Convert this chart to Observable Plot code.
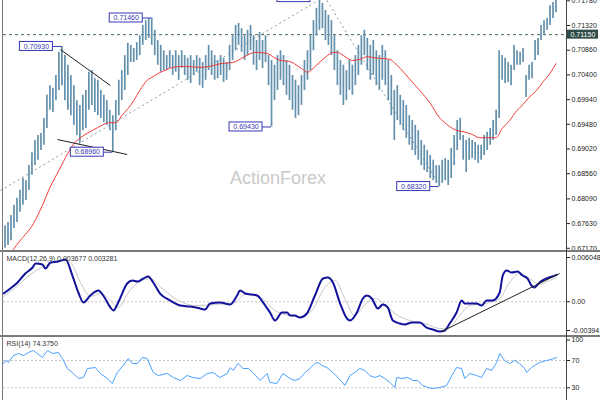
<!DOCTYPE html>
<html><head><meta charset="utf-8">
<script src="https://cdn.jsdelivr.net/npm/d3@7"></script>
<script src="https://cdn.jsdelivr.net/npm/@observablehq/plot@0.6"></script>
<style>
body{margin:0;background:#fff;}
#wrap{position:relative;width:600px;height:400px;overflow:hidden;background:#fff;font-family:"Liberation Sans",Arial,sans-serif;}
#wrap svg{position:absolute;left:0;display:block;overflow:hidden;}
.sep{position:absolute;background:#7a7a7a;}
</style></head><body><div id="wrap"></div>
<script>
// ---- price bars (bar index 0..184) ----
const highs = [.6759,.6765,.6778,.6797,.6810,.6825,.6847,.6843,.6871,.6895,
.6918,.6927,.6931,.6959,.7002,.7020,.7015,.7039,.7082,.7093,
.7076,.7058,.7039,.7020,.6992,.6983,.7002,.7011,.7045,.7048,
.7033,.7030,.7011,.7002,.6992,.6974,.6964,.6992,.7030,.7048,
.7076,.7099,.7095,.7089,.7100,.7113,.7132,.7141,.7145,.7146,
.7123,.7104,.7095,.7085,.7076,.7085,.7076,.7085,.7076,.7085,
.7076,.7071,.7076,.7067,.7076,.7071,.7063,.7076,.7095,.7085,
.7076,.7067,.7076,.7071,.7063,.7095,.7113,.7132,.7136,.7126,
.7113,.7123,.7132,.7113,.7104,.7119,.7104,.7113,.7076,.7067,
.7058,.7076,.7085,.7076,.7067,.7058,.7039,.7030,.7020,.7039,
.7067,.7085,.7113,.7141,.7164,.7184,.7173,.7160,.7151,.7141,
.7113,.7085,.7067,.7058,.7048,.7067,.7058,.7076,.7095,.7113,
.7123,.7108,.7095,.7104,.7085,.7076,.7095,.7085,.7067,.7039,
.7011,.7020,.7002,.6992,.6983,.6964,.6955,.6946,.6936,.6918,
.6909,.6899,.6890,.6881,.6871,.6871,.6881,.6884,.6881,.6903,
.6927,.6955,.6959,.6927,.6918,.6922,.6918,.6914,.6909,.6909,
.6927,.6933,.6940,.6955,.6974,.7085,.7076,.7071,.7063,.7058,
.7095,.7085,.7082,.7089,.7039,.7058,.7063,.7104,.7108,.7132,
.7141,.7145,.7169,.7175,.7179];
const lows = [.6717,.6722,.6731,.6754,.6765,.6784,.6797,.6806,.6825,.6853,
.6871,.6881,.6899,.6909,.6940,.6974,.6970,.6992,.7011,.7020,
.6992,.6974,.6964,.6946,.6927,.6912,.6936,.6940,.6974,.6983,
.6970,.6964,.6959,.6951,.6946,.6936,.6896,.6936,.6964,.6992,
.7011,.7039,.7063,.7063,.7067,.7076,.7095,.7104,.7108,.7095,
.7076,.7058,.7045,.7048,.7048,.7052,.7039,.7045,.7030,.7052,
.7039,.7030,.7024,.7039,.7045,.7020,.7015,.7030,.7048,.7039,
.7030,.7033,.7039,.7026,.7030,.7048,.7067,.7085,.7095,.7082,
.7067,.7076,.7085,.7058,.7048,.7067,.7052,.7063,.7020,.6943,
.6992,.7011,.7030,.7020,.7002,.6992,.6974,.6959,.6964,.6983,
.7011,.7030,.7048,.7085,.7113,.7123,.7126,.7104,.7095,.7076,
.7048,.7020,.7002,.6983,.6992,.7011,.7002,.7020,.7039,.7058,
.7076,.7048,.7030,.7039,.7020,.7011,.7030,.7020,.6992,.6964,
.6918,.6955,.6946,.6936,.6922,.6909,.6899,.6890,.6881,.6871,
.6862,.6858,.6847,.6843,.6838,.6832,.6838,.6843,.6834,.6847,
.6871,.6899,.6918,.6881,.6858,.6881,.6884,.6881,.6875,.6881,
.6890,.6899,.6909,.6918,.6927,.6959,.7030,.7024,.7026,.7020,
.7048,.7058,.7058,.7063,.6998,.7030,.7033,.7067,.7076,.7104,
.7113,.7123,.7132,.7145,.7156];

// ---- moving average ----
const maI = [2.5,5,9.5,12.5,15,18,21,23,25,28,31,33,35,37,39,43,45,47.5,49.5,52,
54,56,60,65,68.5,72,76,80,83.5,87.5,90,92,95,98.5,101,102.5,104,107,109.5,111,
113,116,118.5,121,123,125,128.5,130,132,135,138.5,142,145,147.5,149.5,152,154,156,158.5,162,
164,166,168.5,171,173,175,177.5,179.5,182,184];
const maV = [.6713,.6731,.6763,.6797,.6830,.6862,.6894,.6912,.6922,.6933,.6942,.6948,.6951,.6951,.6964,.6992,.7011,.7030,.7037,.7045,
.7050,.7054,.7056,.7054,.7056,.7061,.7063,.7074,.7082,.7080,.7072,.7067,.7065,.7054,.7045,.7050,.7058,.7073,.7082,.7082,
.7076,.7067,.7069,.7074,.7072,.7071,.7069,.7063,.7052,.7033,.7011,.6987,.6961,.6948,.6940,.6935,.6933,.6929,.6923,.6923,
.6923,.6940,.6955,.6974,.6985,.6998,.7011,.7026,.7043,.7061];

// ---- annotations ----
const labelIdx = [19, 49, 89, 36, 145, 105];
const labelPrice = [0.7093, 0.7146, 0.6943, 0.6896, 0.6832, 0.7184];
const trendX1 = [18.5, 17.5], trendY1 = [0.70873, 0.69196], trendX2 = [35.2, 40.8], trendY2 = [0.70202, 0.68917];
const dotX1 = [-1.5, 107.5], dotY1 = [0.68246, 0.71786], dotX2 = [104.5, 145.2], dotY2 = [0.71786, 0.68340];
const hLine = 0.7115;
const priceTicks = [0.7178,0.7132,0.7086,0.7040,0.6994,0.6948,0.6902,0.6856,0.6809,0.6763,0.6717];

// ---- MACD ----
const macdI = [-0.5,1.8,4.2,6.8,9.2,10.2,12.5,13.5,15.2,17.8,20.2,22.5,24.5,26.2,28.5,31.2,32.8,35.2,36.2,37.8,
40.8,42.5,44.2,46.2,47.8,49.5,51.8,55.2,58.5,61.8,65.2,66.8,68.5,71.8,75.2,77.5,78.5,80.2,84.2,86.2,
88.5,90.2,92.5,94.2,95.2,96.8,98.5,100.8,103.5,106.2,107.8,109.5,111.8,114.2,115.2,117.5,119.5,120.8,122.5,124.5,
126.2,127.8,129.5,131.8,133.5,135.8,138.5,140.8,142.8,145.2,146.8,148.5,150.8,152.5,153.5,155.2,157.5,159.2,160.8,162.8,
165.2,166.2,167.5,169.2,171.2,172.8,174.5,175.8,176.8,178.5,180.8,182.8,184.2];
const macdV = [.00112,.00181,.00263,.00386,.00468,.00523,.00509,.00454,.00536,.00550,.00577,.00358,.00126,-.00011,.00085,.00153,.00085,-.00079,-.00120,-.00011,
.00249,.00290,.00276,.00317,.00345,.00263,.00112,.00016,-.00052,-.00066,-.00093,-.00107,-.00025,-.00011,-.00038,.00085,.00153,.00112,.00085,-.00011,
-.00148,-.00257,-.00148,-.00148,-.00189,-.00189,-.00216,-.00161,.00085,.00317,.00331,.00263,-.00011,-.00230,-.00257,-.00148,.00044,.00085,.00044,-.00093,
-.00038,-.00079,-.00257,-.00298,-.00312,-.00285,-.00285,-.00353,-.00380,-.00408,-.00394,-.00298,-.00148,.00016,-.00025,-.00025,-.00025,-.00052,.00016,.00016,
.00126,.00358,.00427,.00399,.00413,.00358,.00317,.00222,.00194,.00263,.00317,.00345,.00368];
const sigI = [-0.5,3.5,8.5,13.5,18.5,21.8,25.2,28.5,31.8,35.2,37.8,41.2,44.5,48.5,51.8,56.8,63.5,70.2,76.8,80.2,
85.2,90.2,93.5,98.5,102.5,106.8,110.2,113.5,116.8,120.2,123.5,126.8,130.2,135.2,140.2,145.2,148.5,151.8,155.2,160.2,
165.2,168.5,171.8,175.2,178.5,181.8,184.2];
const sigV = [.00071,.00194,.00372,.00495,.00564,.00536,.00263,.00071,.00112,.00016,-.00079,.00126,.00263,.00317,.00208,.00044,-.00052,-.00038,-.00011,.00098,
.00057,-.00120,-.00175,-.00202,-.00120,.00194,.00290,.00044,-.00189,-.00038,.00044,-.00038,-.00161,-.00257,-.00298,-.00367,-.00353,-.00189,-.00052,-.00025,
.00044,.00263,.00386,.00317,.00235,.00290,.00328];
const macdTrendX = [145.8, 185.2], macdTrendY = [-0.00408, 0.00386];
const macdTicks = [0.006048, 0, -0.00394];
const macdTickText = ["0.006048", "0.00", "-0.00394"];
const macdTitle = "MACD(12,26,9) 0.003677 0.003281";

// ---- RSI ----
const rsiI = [-0.5,0.2,1.2,2.8,4.5,6.2,7.8,9.5,10.8,12.5,14.2,15.8,17.8,19.2,20.8,22.5,24.5,26.2,27.5,30.2,
31.8,34.2,35.8,37.5,39.5,41.2,42.5,44.2,45.8,47.5,49.5,51.2,54.2,56.2,58.5,60.8,62.8,65.2,67.5,69.5,
71.8,74.2,75.2,76.2,77.8,79.5,81.2,82.8,85.2,87.5,88.5,90.8,92.8,95.2,96.8,98.5,100.2,101.8,103.5,104.5,
105.8,107.5,109.5,111.2,113.5,115.2,116.8,118.5,120.2,121.8,123.5,125.2,126.8,128.5,130.2,130.8,132.5,134.5,136.2,137.8,
139.5,141.2,142.8,145.2,147.5,149.2,150.8,152.5,153.5,155.2,157.5,159.2,160.8,162.5,164.2,165.2,166.8,168.5,170.2,171.8,
173.5,174.2,175.8,178.5,180.8,182.8,184.2];
const rsiV = [65.6,70,67.1,77.3,80.3,77.3,81.7,84.6,80.3,74.4,84.6,80.3,81.7,72.9,58.3,52.4,43.6,45.1,58.3,59.7,
51,43.6,36.3,52.4,62.7,72.9,65.6,65.6,74.4,72.9,52.4,48,51,45.1,40.7,48,45.1,43.6,51,52.4,
45.1,51,59.7,55.4,65.6,58.3,58.3,52.4,40.7,51,37.8,36.3,51,43.6,40.7,43.6,52.4,58.3,65.6,67.1,
62.7,59.7,52.4,45.1,33.4,48,52.4,58.3,55.4,48,45.1,48,43.6,37.8,30.4,45.1,43.6,45.1,40.7,40.7,
33.4,30.4,29,30.4,33.4,48,59.7,58.3,43.6,51,48,45.1,58.3,55.4,67.1,80.3,70,65.6,70,65.6,
58.3,52.4,59.7,67.1,70,72,74.4];
const rsiTicks = [100, 70, 30];
const rsiLevels = [70, 30];
const rsiTitle = "RSI(14) 74.3750";
const watermark = "ActionForex";

// ---- build ----
const W = 600, ML = 3, MR = 34;
const FONT = "Liberation Sans, Arial, sans-serif";
const xOpt = {domain: [-0.5, 187.5], axis: null};
const baseStyle = {fontFamily: FONT, fontSize: "7px", color: "#222", background: "transparent", overflow: "hidden"};
const bars = highs.map((h, i) => ({i, h, l: lows[i]}));
const ma = maI.map((i, k) => ({i, v: maV[k]}));
const labs = labelIdx.map((i, k) => ({i, p: labelPrice[k]}));
const trends = trendX1.map((x, k) => ({x1: x, y1: trendY1[k], x2: trendX2[k], y2: trendY2[k]}));
const dots = dotX1.map((x, k) => ({x1: x, y1: dotY1[k], x2: dotX2[k], y2: dotY2[k]}));
const lab = "#3838b4";

const main = Plot.plot({
  width: W, height: 253, marginLeft: ML, marginRight: MR, marginTop: 0, marginBottom: 0,
  style: baseStyle,
  x: xOpt,
  y: {domain: [0.67073, 0.71786], axis: "right", ticks: priceTicks, tickFormat: d3.format(".5f"), tickSize: 3, tickPadding: 2, label: null},
  marks: [
    Plot.text([watermark], {text: d => d, frameAnchor: "middle", dx: -7, dy: 51, fontSize: 18, fill: "#c9c9c9", fontFamily: FONT}),
    Plot.ruleY([hLine], {stroke: "#3f6b5d", strokeDasharray: "3,3"}),
    Plot.link(dots, {x1: "x1", y1: "y1", x2: "x2", y2: "y2", stroke: "#8a9a98", strokeDasharray: "2,3"}),
    Plot.ruleX(bars, {x: "i", y1: "l", y2: "h", stroke: "#6290ad", strokeWidth: 1.7}),
    Plot.line(ma, {x: "i", y: "v", stroke: "#f23a3a", strokeWidth: 1, curve: "monotone-x"}),
    Plot.link(trends, {x1: "x1", y1: "y1", x2: "x2", y2: "y2", stroke: "#222", strokeWidth: 1}),
    Plot.ruleY(labs, {y: "p", x1: "i", x2: "i", insetLeft: -9, stroke: lab}),
    Plot.rect(labs, {x1: "i", x2: "i", y1: "p", y2: "p", insetLeft: -42, insetRight: 9, insetTop: -4.5, insetBottom: -4.5, fill: "white", stroke: lab}),
    Plot.text(labs, {x: "i", y: "p", text: d => d.p.toFixed(5), dx: -25.5, fill: lab, fontSize: 7}),
    Plot.rect([hLine], {x1: () => 187.5, x2: () => 187.5, y1: d => d, y2: d => d, insetLeft: 1, insetRight: -32, insetTop: -4.5, insetBottom: -4.5, fill: "#2f4b47"}),
    Plot.text([hLine], {x: () => 187.5, y: d => d, text: d => d3.format(".5f")(d), dx: 4, textAnchor: "start", fill: "white", fontSize: 7})
  ]
});
main.style.top = "0px";

const macd = macdI.map((i, k) => ({i, v: macdV[k]}));
const sig = sigI.map((i, k) => ({i, v: sigV[k]}));
const macdTrend = [{x1: macdTrendX[0], y1: macdTrendY[0], x2: macdTrendX[1], y2: macdTrendY[1]}];
const macdPlot = Plot.plot({
  width: W, height: 83, marginLeft: ML, marginRight: MR, marginTop: 0, marginBottom: 0,
  style: baseStyle,
  x: xOpt,
  y: {domain: [-0.00462, 0.00673], axis: "right", ticks: macdTicks, tickFormat: d => macdTickText[macdTicks.indexOf(d)], tickSize: 3, tickPadding: 2, label: null},
  marks: [
    Plot.ruleY([0], {stroke: "#c4c4c4", strokeDasharray: "2,2"}),
    Plot.line(sig, {x: "i", y: "v", stroke: "#c8c8c8", strokeWidth: 1, curve: "monotone-x"}),
    Plot.line(macd, {x: "i", y: "v", stroke: "#12129c", strokeWidth: 2, curve: "monotone-x"}),
    Plot.link(macdTrend, {x1: "x1", y1: "y1", x2: "x2", y2: "y2", stroke: "#222"}),
    Plot.text([macdTitle], {text: d => d, frameAnchor: "top-left", dx: 3, dy: 4, fill: "#333", fontSize: 7})
  ]
});
macdPlot.style.top = "252px";

const rsi = rsiI.map((i, k) => ({i, v: rsiV[k]}));
const rsiPlot = Plot.plot({
  width: W, height: 63, marginLeft: ML, marginRight: MR, marginTop: 0, marginBottom: 0,
  style: baseStyle,
  x: xOpt,
  y: {domain: [11.4, 103.7], axis: "right", ticks: rsiTicks, tickFormat: d => String(d), tickSize: 3, tickPadding: 2, label: null},
  marks: [
    Plot.ruleY(rsiLevels, {stroke: "#c4c4c4", strokeDasharray: "2,2"}),
    Plot.line(rsi, {x: "i", y: "v", stroke: "#4aa0ff", strokeWidth: 1}),
    Plot.text([rsiTitle], {text: d => d, frameAnchor: "top-left", dx: 3, dy: 4, fill: "#333", fontSize: 7})
  ]
});
rsiPlot.style.top = "337px";

const wrap = document.getElementById("wrap");
wrap.append(main, macdPlot, rsiPlot);
function sep(l, t, w, h, c) { const d = document.createElement("div"); d.className = "sep"; Object.assign(d.style, {left: l + "px", top: t + "px", width: w + "px", height: h + "px"}); if (c) d.style.background = c; wrap.append(d); }
sep(0, 250, 600, 2);
sep(0, 335, 600, 2);
sep(2, 0, 1, 400);
sep(566, 0, 1, 400, "#444");
</script>
</body></html>
